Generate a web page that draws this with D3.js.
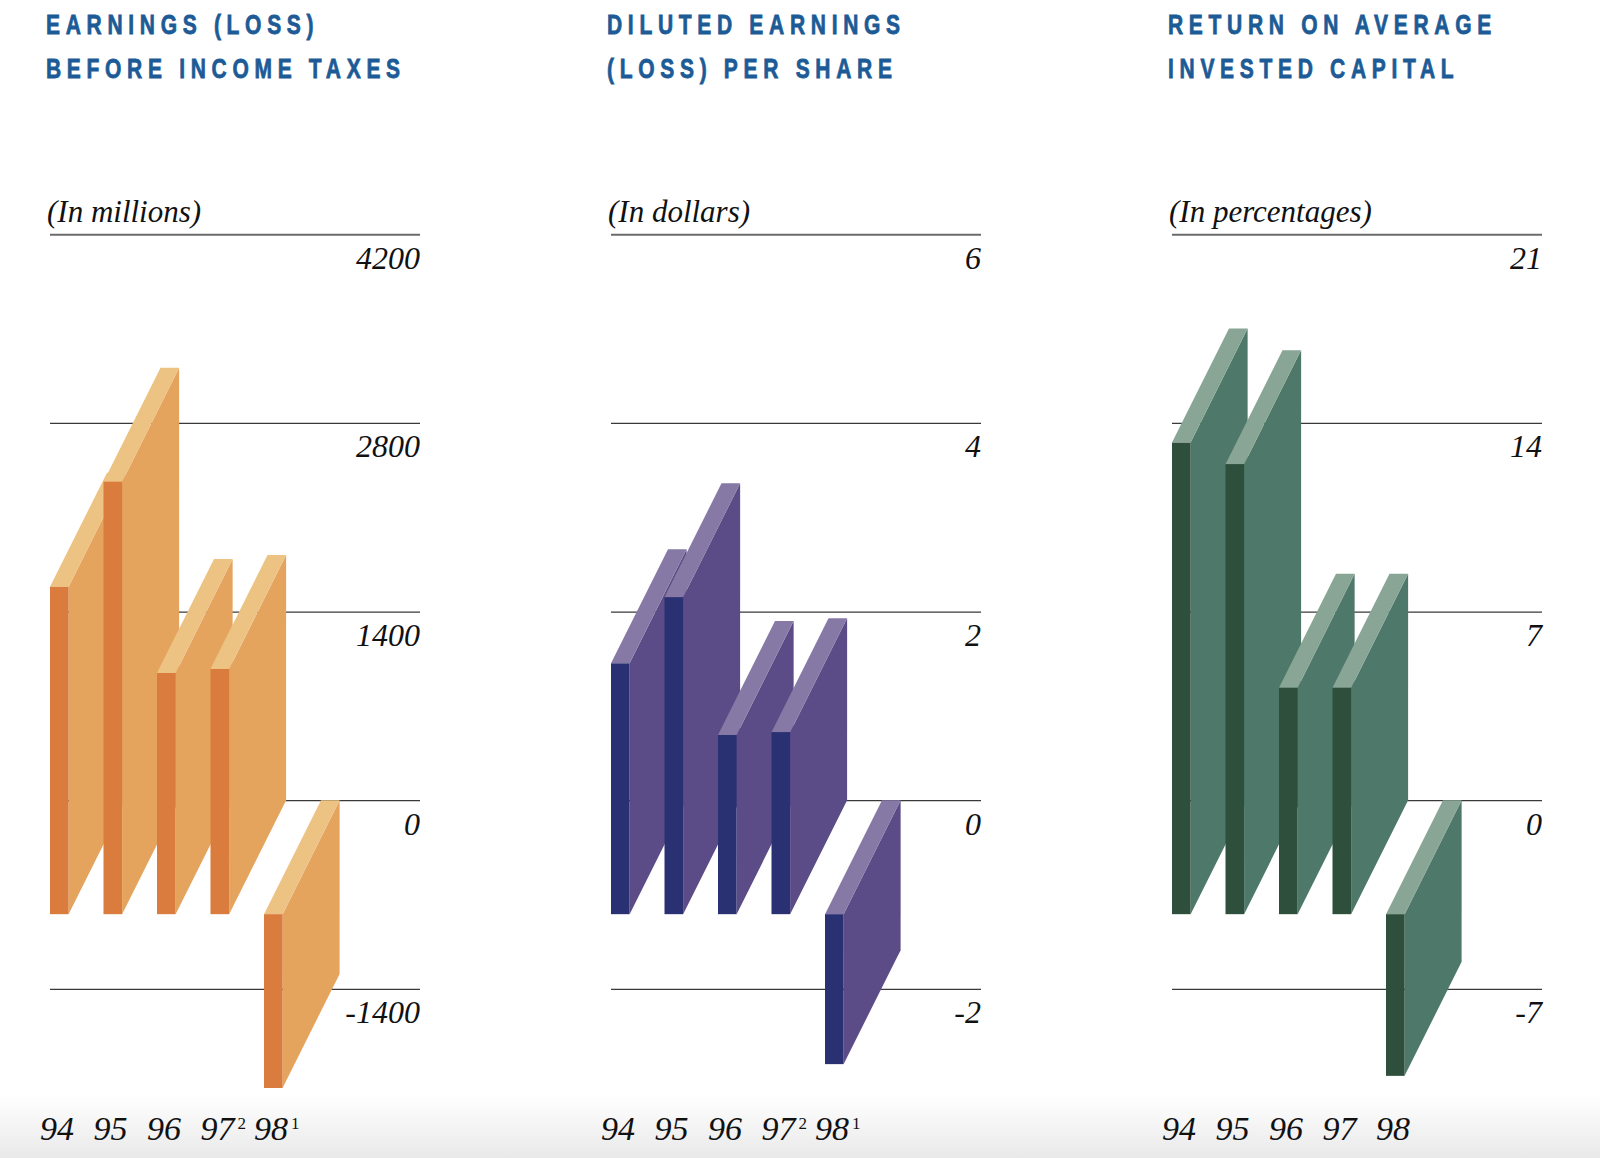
<!DOCTYPE html>
<html>
<head>
<meta charset="utf-8">
<script src="https://cdnjs.cloudflare.com/ajax/libs/d3/7.8.5/d3.min.js"></script>
<style>
  body { margin: 0; background: #fff; }
  .title { font-family: "Liberation Sans", Arial, sans-serif; font-weight: bold; fill: #1c5b96; stroke: #1c5b96; stroke-width: 0.8px; }
  .serif { font-family: "Liberation Serif", "Times New Roman", serif; font-style: italic; fill: #111; }
</style>
</head>
<body>
<div id="chart"></div>
<script>
// Chart data
var years = ["94", "95", "96", "97", "98"];
var earningsValues = [2430, 3210, 1790, 1820, -1290];
var epsValues = [2.66, 3.36, 1.90, 1.93, -1.59];
var roicValues = [17.5, 16.7, 8.4, 8.4, -6.0];
var earningsTicks = [-1400, 0, 1400, 2800, 4200];
var epsTicks = [-2, 0, 2, 4, 6];
var roicTicks = [-7, 0, 7, 14, 21];
var earningsNotes = ["", "", "", "2", "1"];
var epsNotes = ["", "", "", "2", "1"];
var roicNotes = ["", "", "", "", ""];
var titles = [
  ["EARNINGS (LOSS)", "BEFORE INCOME TAXES"],
  ["DILUTED EARNINGS", "(LOSS) PER SHARE"],
  ["RETURN ON AVERAGE", "INVESTED CAPITAL"]
];
var units = ["(In millions)", "(In dollars)", "(In percentages)"];

// face colours: front, side, top
var orange = ["#d97c3d", "#e5a45e", "#edc384"];
var purple = ["#2a3172", "#5b4c87", "#8679a6"];
var green = ["#2d4f3c", "#4e7869", "#89a595"];

var panels = [
  { title: titles[0], unit: units[0], values: earningsValues, ticks: earningsTicks, notes: earningsNotes, colors: orange },
  { title: titles[1], unit: units[1], values: epsValues, ticks: epsTicks, notes: epsNotes, colors: purple },
  { title: titles[2], unit: units[2], values: roicValues, ticks: roicTicks, notes: roicNotes, colors: green }
];

// layout
var svgWidth = 1600;
var svgHeight = 1158;
var panelLeft = 50;
var panelStep = 561;
var gridWidth = 370;
var gridTop = 234.3;
var gridBottom = 988.8;
var depthX = 57;
var depthY = 114;
var barWidth = 18.6;
var barStep = 53.5;

var svg = d3.select("#chart")
  .append("svg")
  .attr("width", svgWidth)
  .attr("height", svgHeight);

// faint grey band at the bottom of the page
var grad = svg.append("defs").append("linearGradient")
  .attr("id", "floor")
  .attr("x1", 0).attr("y1", 0).attr("x2", 0).attr("y2", 1);
grad.append("stop").attr("offset", "0%").attr("stop-color", "#ffffff");
grad.append("stop").attr("offset", "100%").attr("stop-color", "#e9e9e9");
svg.append("rect")
  .attr("x", 0).attr("y", 1095)
  .attr("width", svgWidth).attr("height", svgHeight - 1095)
  .attr("fill", "url(#floor)");

panels.forEach(function(p, i) {
  var g = svg.append("g")
    .attr("transform", `translate(${panelLeft + i * panelStep}, 0)`);

  // Scales
  var xScale = d3.scaleBand()
    .domain(years)
    .range([0, barStep * years.length]);

  var yScale = d3.scaleLinear()
    .domain(d3.extent(p.ticks))
    .range([gridBottom, gridTop]);

  // Titles
  p.title.forEach(function(line, k) {
    g.append("text")
      .attr("class", "title")
      .attr("transform", `translate(-4, ${34.3 + k * 44}) scale(0.75, 1)`)
      .style("font-size", "28px")
      .style("letter-spacing", "7.6px")
      .text(line);
  });

  g.append("text")
    .attr("class", "serif")
    .attr("x", -3)
    .attr("y", 221.5)
    .style("font-size", "31px")
    .text(p.unit);

  // Gridlines + tick labels (behind the bars)
  var axis = d3.axisRight(yScale)
    .tickValues(p.ticks)
    .tickSize(gridWidth)
    .tickFormat(d => String(d));

  var axisG = g.append("g").call(axis);
  axisG.select(".domain").remove();
  axisG.selectAll(".tick line")
    .attr("stroke", "#3a3a3a")
    .attr("stroke-width", 1.2);
  axisG.selectAll(".tick")
    .filter(d => d === d3.max(p.ticks))
    .select("line")
    .attr("stroke", "#6b6b6b")
    .attr("stroke-width", 2);
  axisG.selectAll(".tick text")
    .attr("class", "serif")
    .attr("x", gridWidth)
    .attr("dy", 34)
    .attr("text-anchor", "end")
    .style("font-size", "32px")
    .style("fill", "#111");

  // Bars: side, top, then front face, drawn left to right
  var bars = g.selectAll("g.bar")
    .data(p.values)
    .enter()
    .append("g")
    .attr("class", "bar");

  function geom(v, j) {
    var fx = xScale(years[j]);
    var yTop = yScale(Math.max(v, 0)) + depthY;
    var yBot = yScale(Math.min(v, 0)) + depthY;
    return { fx: fx, yTop: yTop, yBot: yBot };
  }

  bars.append("path")
    .attr("fill", p.colors[1])
    .attr("d", function(v, j) {
      var b = geom(v, j);
      var xr = b.fx + barWidth;
      return `M${xr},${b.yTop}L${xr + depthX},${b.yTop - depthY}L${xr + depthX},${b.yBot - depthY}L${xr},${b.yBot}Z`;
    });

  bars.append("path")
    .attr("fill", p.colors[2])
    .attr("d", function(v, j) {
      var b = geom(v, j);
      return `M${b.fx},${b.yTop}L${b.fx + depthX},${b.yTop - depthY}L${b.fx + barWidth + depthX},${b.yTop - depthY}L${b.fx + barWidth},${b.yTop}Z`;
    });

  bars.append("rect")
    .attr("fill", p.colors[0])
    .attr("x", (v, j) => geom(v, j).fx)
    .attr("y", (v, j) => geom(v, j).yTop)
    .attr("width", barWidth)
    .attr("height", (v, j) => geom(v, j).yBot - geom(v, j).yTop);

  // Year labels with footnote marks
  var labels = g.selectAll("text.year")
    .data(years)
    .enter()
    .append("text")
    .attr("class", "serif year")
    .attr("x", d => xScale(d) - 10)
    .attr("y", 1140)
    .style("font-size", "34px");

  labels.append("tspan").text(d => d);
  labels.append("tspan")
    .attr("dx", 3)
    .attr("dy", -11)
    .style("font-size", "17px")
    .style("font-style", "normal")
    .text((d, j) => p.notes[j]);
});
</script>
</body>
</html>
